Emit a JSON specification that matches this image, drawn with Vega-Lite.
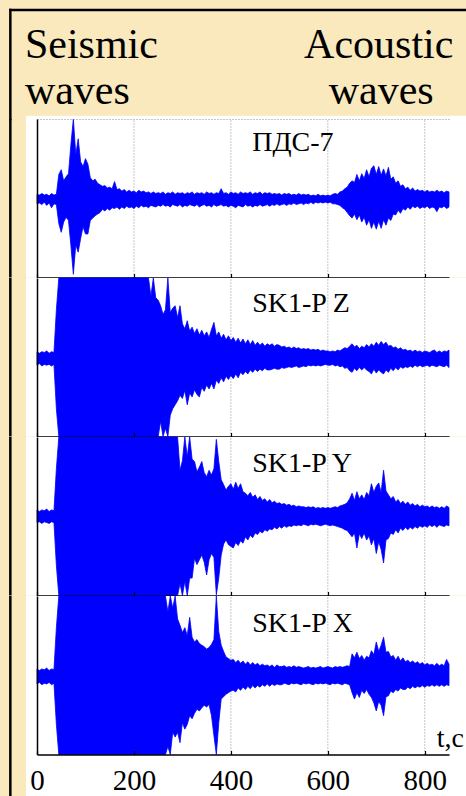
{
"$schema": "https://vega.github.io/schema/vega-lite/v6.json",
"background": "#F9E9BD",
"padding": {"left": 8, "top": 8, "right": 0, "bottom": 0},
"spacing": 0,
"bounds": "flush",
"config": {"view": {"stroke": null}, "font": "Liberation Serif"},
"resolve": {"scale": {"x": "independent", "y": "independent"}, "axis": {"x": "independent", "y": "independent"}},
"datasets": {
"gridlines": [{"t":200},{"t":400},{"t":600},{"t":800}],
"pds": [
{"t":0,"hi":0.05,"lo":-0.07},{"t":5,"hi":0.04,"lo":-0.06},{"t":10,"hi":0.06,"lo":-0.08},{"t":15,"hi":0.04,"lo":-0.05},{"t":20,"hi":0.05,"lo":-0.09},{"t":25,"hi":0.03,"lo":-0.06},{"t":30,"hi":0.06,"lo":-0.12},{"t":35,"hi":0.04,"lo":-0.07},{"t":40,"hi":0.05,"lo":-0.08},
{"t":45,"hi":0.30,"lo":-0.32},{"t":50,"hi":0.36,"lo":-0.43},{"t":55,"hi":0.22,"lo":-0.30},{"t":60,"hi":0.27,"lo":-0.24},{"t":65,"hi":0.31,"lo":-0.28},{"t":70,"hi":0.68,"lo":-0.60},{"t":75,"hi":1,"lo":-0.96},{"t":80,"hi":0.55,"lo":-0.59},{"t":85,"hi":0.75,"lo":-0.68},{"t":90,"hi":0.46,"lo":-0.51},{"t":95,"hi":0.40,"lo":-0.36},{"t":100,"hi":0.50,"lo":-0.45},{"t":105,"hi":0.43,"lo":-0.45},{"t":110,"hi":0.26,"lo":-0.28},{"t":115,"hi":0.22,"lo":-0.25},{"t":120,"hi":0.24,"lo":-0.22},{"t":125,"hi":0.19,"lo":-0.20},{"t":130,"hi":0.17,"lo":-0.18},{"t":135,"hi":0.15,"lo":-0.14},{"t":140,"hi":0.16,"lo":-0.16},{"t":145,"hi":0.13,"lo":-0.13},{"t":150,"hi":0.14,"lo":-0.15},{"t":155,"hi":0.12,"lo":-0.12},{"t":160,"hi":0.21,"lo":-0.13},{"t":165,"hi":0.11,"lo":-0.11},{"t":170,"hi":0.12,"lo":-0.14},{"t":175,"hi":0.09,"lo":-0.11},{"t":180,"hi":0.11,"lo":-0.13},{"t":185,"hi":0.08,"lo":-0.10},{"t":190,"hi":0.10,"lo":-0.12},{"t":195,"hi":0.08,"lo":-0.11},{"t":200,"hi":0.09,"lo":-0.13},
{"t":205,"hi":0.07,"lo":-0.10},{"t":210,"hi":0.10,"lo":-0.12},{"t":215,"hi":0.08,"lo":-0.09},{"t":220,"hi":0.09,"lo":-0.11},{"t":225,"hi":0.07,"lo":-0.10},{"t":230,"hi":0.08,"lo":-0.12},{"t":235,"hi":0.06,"lo":-0.09},{"t":240,"hi":0.08,"lo":-0.10},{"t":245,"hi":0.06,"lo":-0.11},{"t":250,"hi":0.07,"lo":-0.09},{"t":255,"hi":0.06,"lo":-0.10},{"t":260,"hi":0.08,"lo":-0.08},{"t":265,"hi":0.05,"lo":-0.10},{"t":270,"hi":0.07,"lo":-0.09},{"t":275,"hi":0.06,"lo":-0.11},{"t":280,"hi":0.08,"lo":-0.08},{"t":285,"hi":0.05,"lo":-0.09},{"t":290,"hi":0.07,"lo":-0.10},{"t":295,"hi":0.06,"lo":-0.08},{"t":300,"hi":0.07,"lo":-0.11},
{"t":305,"hi":0.05,"lo":-0.09},{"t":310,"hi":0.07,"lo":-0.10},{"t":315,"hi":0.06,"lo":-0.08},{"t":320,"hi":0.08,"lo":-0.09},{"t":325,"hi":0.05,"lo":-0.10},{"t":330,"hi":0.07,"lo":-0.08},{"t":335,"hi":0.06,"lo":-0.11},{"t":340,"hi":0.07,"lo":-0.09},{"t":345,"hi":0.05,"lo":-0.08},{"t":350,"hi":0.08,"lo":-0.10},{"t":355,"hi":0.06,"lo":-0.09},{"t":360,"hi":0.07,"lo":-0.11},{"t":365,"hi":0.05,"lo":-0.08},{"t":370,"hi":0.07,"lo":-0.10},{"t":375,"hi":0.06,"lo":-0.09},{"t":380,"hi":0.12,"lo":-0.08},{"t":385,"hi":0.06,"lo":-0.10},{"t":390,"hi":0.07,"lo":-0.09},{"t":395,"hi":0.05,"lo":-0.11},{"t":400,"hi":0.08,"lo":-0.09},
{"t":405,"hi":0.06,"lo":-0.10},{"t":410,"hi":0.07,"lo":-0.12},{"t":415,"hi":0.05,"lo":-0.09},{"t":420,"hi":0.08,"lo":-0.10},{"t":425,"hi":0.06,"lo":-0.11},{"t":430,"hi":0.07,"lo":-0.08},{"t":435,"hi":0.06,"lo":-0.10},{"t":440,"hi":0.08,"lo":-0.09},{"t":445,"hi":0.05,"lo":-0.11},{"t":450,"hi":0.07,"lo":-0.09},{"t":455,"hi":0.06,"lo":-0.10},{"t":460,"hi":0.08,"lo":-0.08},{"t":465,"hi":0.05,"lo":-0.10},{"t":470,"hi":0.07,"lo":-0.09},{"t":475,"hi":0.06,"lo":-0.08},{"t":480,"hi":0.07,"lo":-0.10},{"t":485,"hi":0.05,"lo":-0.08},{"t":490,"hi":0.06,"lo":-0.09},{"t":495,"hi":0.05,"lo":-0.07},{"t":500,"hi":0.06,"lo":-0.09},
{"t":505,"hi":0.04,"lo":-0.08},{"t":510,"hi":0.06,"lo":-0.07},{"t":515,"hi":0.05,"lo":-0.09},{"t":520,"hi":0.06,"lo":-0.07},{"t":525,"hi":0.04,"lo":-0.08},{"t":530,"hi":0.05,"lo":-0.06},{"t":535,"hi":0.04,"lo":-0.08},{"t":540,"hi":0.06,"lo":-0.07},{"t":545,"hi":0.04,"lo":-0.06},{"t":550,"hi":0.05,"lo":-0.08},{"t":555,"hi":0.04,"lo":-0.06},{"t":560,"hi":0.05,"lo":-0.07},{"t":565,"hi":0.03,"lo":-0.05},{"t":570,"hi":0.04,"lo":-0.07},{"t":575,"hi":0.03,"lo":-0.05},{"t":580,"hi":0.05,"lo":-0.06},{"t":585,"hi":0.03,"lo":-0.05},{"t":590,"hi":0.04,"lo":-0.06},{"t":595,"hi":0.03,"lo":-0.05},{"t":600,"hi":0.04,"lo":-0.06},
{"t":605,"hi":0.03,"lo":-0.05},{"t":610,"hi":0.05,"lo":-0.07},{"t":615,"hi":0.06,"lo":-0.07},{"t":620,"hi":0.05,"lo":-0.08},{"t":625,"hi":0.08,"lo":-0.09},{"t":630,"hi":0.09,"lo":-0.12},{"t":635,"hi":0.12,"lo":-0.14},{"t":640,"hi":0.14,"lo":-0.18},{"t":645,"hi":0.19,"lo":-0.22},{"t":650,"hi":0.22,"lo":-0.25},{"t":655,"hi":0.20,"lo":-0.20},{"t":660,"hi":0.30,"lo":-0.27},{"t":665,"hi":0.22,"lo":-0.21},{"t":670,"hi":0.31,"lo":-0.30},{"t":675,"hi":0.25,"lo":-0.24},{"t":680,"hi":0.36,"lo":-0.34},{"t":685,"hi":0.27,"lo":-0.27},{"t":690,"hi":0.38,"lo":-0.38},{"t":695,"hi":0.41,"lo":-0.30},{"t":700,"hi":0.30,"lo":-0.39},
{"t":705,"hi":0.40,"lo":-0.29},{"t":710,"hi":0.29,"lo":-0.38},{"t":715,"hi":0.37,"lo":-0.27},{"t":720,"hi":0.28,"lo":-0.34},{"t":725,"hi":0.39,"lo":-0.25},{"t":730,"hi":0.24,"lo":-0.28},{"t":735,"hi":0.27,"lo":-0.20},{"t":740,"hi":0.19,"lo":-0.21},{"t":745,"hi":0.22,"lo":-0.15},{"t":750,"hi":0.15,"lo":-0.19},{"t":755,"hi":0.17,"lo":-0.13},{"t":760,"hi":0.12,"lo":-0.15},{"t":765,"hi":0.14,"lo":-0.11},{"t":770,"hi":0.10,"lo":-0.14},{"t":775,"hi":0.13,"lo":-0.10},{"t":780,"hi":0.09,"lo":-0.12},{"t":785,"hi":0.11,"lo":-0.10},{"t":790,"hi":0.09,"lo":-0.13},{"t":795,"hi":0.10,"lo":-0.11},{"t":800,"hi":0.08,"lo":-0.12},
{"t":805,"hi":0.10,"lo":-0.10},{"t":810,"hi":0.08,"lo":-0.13},{"t":815,"hi":0.09,"lo":-0.11},{"t":820,"hi":0.08,"lo":-0.12},{"t":825,"hi":0.10,"lo":-0.17},{"t":830,"hi":0.08,"lo":-0.11},{"t":835,"hi":0.09,"lo":-0.12},{"t":840,"hi":0.07,"lo":-0.10},{"t":845,"hi":0.09,"lo":-0.13},{"t":850,"hi":0.08,"lo":-0.11}
],
"skz": [
{"t":0,"hi":0.07,"lo":-0.10},{"t":5,"hi":0.05,"lo":-0.08},{"t":10,"hi":0.07,"lo":-0.11},{"t":15,"hi":0.06,"lo":-0.09},{"t":20,"hi":0.08,"lo":-0.10},{"t":25,"hi":0.05,"lo":-0.09},{"t":30,"hi":0.07,"lo":-0.11},{"t":35,"hi":0.06,"lo":-0.09},{"t":40,"hi":0.60,"lo":-0.65},
{"t":45,"hi":1,"lo":-1},{"t":50,"hi":1,"lo":-1},{"t":55,"hi":1,"lo":-1},{"t":60,"hi":1,"lo":-1},{"t":65,"hi":1,"lo":-1},{"t":70,"hi":1,"lo":-1},{"t":75,"hi":1,"lo":-1},{"t":80,"hi":1,"lo":-1},{"t":85,"hi":1,"lo":-1},{"t":90,"hi":1,"lo":-1},{"t":95,"hi":1,"lo":-1},{"t":100,"hi":1,"lo":-1},{"t":105,"hi":1,"lo":-1},{"t":110,"hi":1,"lo":-1},{"t":115,"hi":1,"lo":-1},{"t":120,"hi":1,"lo":-1},{"t":125,"hi":1,"lo":-1},{"t":130,"hi":1,"lo":-1},{"t":135,"hi":1,"lo":-1},{"t":140,"hi":1,"lo":-1},{"t":145,"hi":1,"lo":-1},{"t":150,"hi":1,"lo":-1},{"t":155,"hi":1,"lo":-1},{"t":160,"hi":1,"lo":-1},{"t":165,"hi":1,"lo":-1},{"t":170,"hi":1,"lo":-1},{"t":175,"hi":1,"lo":-1},{"t":180,"hi":1,"lo":-1},{"t":185,"hi":1,"lo":-1},{"t":190,"hi":1,"lo":-1},{"t":195,"hi":1,"lo":-1},{"t":200,"hi":1,"lo":-1},{"t":205,"hi":1,"lo":-1},{"t":210,"hi":1,"lo":-1},{"t":215,"hi":1,"lo":-1},{"t":220,"hi":1,"lo":-1},{"t":225,"hi":1,"lo":-1},{"t":230,"hi":1,"lo":-1},
{"t":235,"hi":0.77,"lo":-1},{"t":240,"hi":1,"lo":-1},{"t":245,"hi":0.75,"lo":-1},{"t":250,"hi":0.72,"lo":-1},{"t":255,"hi":0.65,"lo":-0.81},{"t":260,"hi":0.54,"lo":-1},{"t":265,"hi":0.60,"lo":-0.90},{"t":270,"hi":1,"lo":-1},{"t":275,"hi":0.56,"lo":-0.73},{"t":280,"hi":0.62,"lo":-0.65},{"t":285,"hi":0.65,"lo":-0.60},{"t":290,"hi":0.50,"lo":-0.55},{"t":295,"hi":0.65,"lo":-0.48},{"t":300,"hi":0.42,"lo":-0.52},
{"t":305,"hi":0.36,"lo":-0.42},{"t":310,"hi":0.46,"lo":-0.60},{"t":315,"hi":0.33,"lo":-0.45},{"t":320,"hi":0.38,"lo":-0.50},{"t":325,"hi":0.30,"lo":-0.41},{"t":330,"hi":0.36,"lo":-0.47},{"t":335,"hi":0.28,"lo":-0.50},{"t":340,"hi":0.34,"lo":-0.38},{"t":345,"hi":0.27,"lo":-0.43},{"t":350,"hi":0.32,"lo":-0.35},{"t":355,"hi":0.25,"lo":-0.40},{"t":360,"hi":0.35,"lo":-0.33},{"t":365,"hi":0.44,"lo":-0.40},{"t":370,"hi":0.27,"lo":-0.29},{"t":375,"hi":0.32,"lo":-0.33},{"t":380,"hi":0.24,"lo":-0.26},{"t":385,"hi":0.29,"lo":-0.31},{"t":390,"hi":0.22,"lo":-0.24},{"t":395,"hi":0.27,"lo":-0.28},{"t":400,"hi":0.21,"lo":-0.23},
{"t":405,"hi":0.25,"lo":-0.27},{"t":410,"hi":0.19,"lo":-0.21},{"t":415,"hi":0.24,"lo":-0.26},{"t":420,"hi":0.18,"lo":-0.19},{"t":425,"hi":0.23,"lo":-0.22},{"t":430,"hi":0.17,"lo":-0.18},{"t":435,"hi":0.22,"lo":-0.21},{"t":440,"hi":0.16,"lo":-0.16},{"t":445,"hi":0.21,"lo":-0.19},{"t":450,"hi":0.15,"lo":-0.15},{"t":455,"hi":0.19,"lo":-0.18},{"t":460,"hi":0.15,"lo":-0.15},{"t":465,"hi":0.18,"lo":-0.17},{"t":470,"hi":0.14,"lo":-0.14},{"t":475,"hi":0.17,"lo":-0.16},{"t":480,"hi":0.15,"lo":-0.16},{"t":485,"hi":0.17,"lo":-0.15},{"t":490,"hi":0.14,"lo":-0.14},{"t":495,"hi":0.16,"lo":-0.15},{"t":500,"hi":0.15,"lo":-0.15},
{"t":505,"hi":0.13,"lo":-0.13},{"t":510,"hi":0.14,"lo":-0.14},{"t":515,"hi":0.12,"lo":-0.13},{"t":520,"hi":0.13,"lo":-0.12},{"t":525,"hi":0.11,"lo":-0.13},{"t":530,"hi":0.13,"lo":-0.12},{"t":535,"hi":0.11,"lo":-0.11},{"t":540,"hi":0.12,"lo":-0.13},{"t":545,"hi":0.10,"lo":-0.12},{"t":550,"hi":0.11,"lo":-0.11},{"t":555,"hi":0.10,"lo":-0.12},{"t":560,"hi":0.11,"lo":-0.10},{"t":565,"hi":0.09,"lo":-0.11},{"t":570,"hi":0.10,"lo":-0.10},{"t":575,"hi":0.09,"lo":-0.11},{"t":580,"hi":0.10,"lo":-0.10},{"t":585,"hi":0.08,"lo":-0.11},{"t":590,"hi":0.09,"lo":-0.10},{"t":595,"hi":0.08,"lo":-0.09},{"t":600,"hi":0.08,"lo":-0.10},
{"t":605,"hi":0.07,"lo":-0.10},{"t":610,"hi":0.08,"lo":-0.09},{"t":615,"hi":0.07,"lo":-0.11},{"t":620,"hi":0.09,"lo":-0.10},{"t":625,"hi":0.08,"lo":-0.12},{"t":630,"hi":0.10,"lo":-0.11},{"t":635,"hi":0.12,"lo":-0.14},{"t":640,"hi":0.11,"lo":-0.13},{"t":645,"hi":0.14,"lo":-0.17},{"t":650,"hi":0.17,"lo":-0.19},{"t":655,"hi":0.13,"lo":-0.14},{"t":660,"hi":0.15,"lo":-0.17},{"t":665,"hi":0.11,"lo":-0.13},{"t":670,"hi":0.14,"lo":-0.16},{"t":675,"hi":0.12,"lo":-0.13},{"t":680,"hi":0.16,"lo":-0.16},{"t":685,"hi":0.13,"lo":-0.18},{"t":690,"hi":0.17,"lo":-0.21},{"t":695,"hi":0.14,"lo":-0.15},{"t":700,"hi":0.19,"lo":-0.20},
{"t":705,"hi":0.15,"lo":-0.16},{"t":710,"hi":0.20,"lo":-0.19},{"t":715,"hi":0.16,"lo":-0.21},{"t":720,"hi":0.19,"lo":-0.16},{"t":725,"hi":0.14,"lo":-0.19},{"t":730,"hi":0.15,"lo":-0.14},{"t":735,"hi":0.12,"lo":-0.17},{"t":740,"hi":0.13,"lo":-0.13},{"t":745,"hi":0.10,"lo":-0.16},{"t":750,"hi":0.12,"lo":-0.12},{"t":755,"hi":0.09,"lo":-0.14},{"t":760,"hi":0.10,"lo":-0.12},{"t":765,"hi":0.08,"lo":-0.13},{"t":770,"hi":0.09,"lo":-0.11},{"t":775,"hi":0.07,"lo":-0.13},{"t":780,"hi":0.09,"lo":-0.10},{"t":785,"hi":0.07,"lo":-0.12},{"t":790,"hi":0.08,"lo":-0.10},{"t":795,"hi":0.06,"lo":-0.12},{"t":800,"hi":0.08,"lo":-0.11},
{"t":805,"hi":0.07,"lo":-0.10},{"t":810,"hi":0.06,"lo":-0.12},{"t":815,"hi":0.08,"lo":-0.10},{"t":820,"hi":0.09,"lo":-0.11},{"t":825,"hi":0.06,"lo":-0.12},{"t":830,"hi":0.08,"lo":-0.10},{"t":835,"hi":0.06,"lo":-0.11},{"t":840,"hi":0.08,"lo":-0.12},{"t":845,"hi":0.07,"lo":-0.10},{"t":850,"hi":0.09,"lo":-0.13}
],
"sky": [
{"t":0,"hi":0.08,"lo":-0.08},{"t":5,"hi":0.06,"lo":-0.07},{"t":10,"hi":0.08,"lo":-0.09},{"t":15,"hi":0.07,"lo":-0.07},{"t":20,"hi":0.09,"lo":-0.08},{"t":25,"hi":0.06,"lo":-0.09},{"t":30,"hi":0.08,"lo":-0.07},{"t":35,"hi":0.07,"lo":-0.08},{"t":40,"hi":0.60,"lo":-0.62},
{"t":45,"hi":1,"lo":-1},{"t":50,"hi":1,"lo":-1},{"t":55,"hi":1,"lo":-1},{"t":60,"hi":1,"lo":-1},{"t":65,"hi":1,"lo":-1},{"t":70,"hi":1,"lo":-1},{"t":75,"hi":1,"lo":-1},{"t":80,"hi":1,"lo":-1},{"t":85,"hi":1,"lo":-1},{"t":90,"hi":1,"lo":-1},{"t":95,"hi":1,"lo":-1},{"t":100,"hi":1,"lo":-1},{"t":105,"hi":1,"lo":-1},{"t":110,"hi":1,"lo":-1},{"t":115,"hi":1,"lo":-1},{"t":120,"hi":1,"lo":-1},{"t":125,"hi":1,"lo":-1},{"t":130,"hi":1,"lo":-1},{"t":135,"hi":1,"lo":-1},{"t":140,"hi":1,"lo":-1},{"t":145,"hi":1,"lo":-1},{"t":150,"hi":1,"lo":-1},{"t":155,"hi":1,"lo":-1},{"t":160,"hi":1,"lo":-1},{"t":165,"hi":1,"lo":-1},{"t":170,"hi":1,"lo":-1},{"t":175,"hi":1,"lo":-1},{"t":180,"hi":1,"lo":-1},{"t":185,"hi":1,"lo":-1},{"t":190,"hi":1,"lo":-1},{"t":195,"hi":1,"lo":-1},{"t":200,"hi":1,"lo":-1},{"t":205,"hi":1,"lo":-1},{"t":210,"hi":1,"lo":-1},{"t":215,"hi":1,"lo":-1},{"t":220,"hi":1,"lo":-1},{"t":225,"hi":1,"lo":-1},{"t":230,"hi":1,"lo":-1},{"t":235,"hi":1,"lo":-1},{"t":240,"hi":1,"lo":-1},{"t":245,"hi":1,"lo":-1},{"t":250,"hi":1,"lo":-1},{"t":255,"hi":1,"lo":-1},{"t":260,"hi":1,"lo":-1},{"t":265,"hi":1,"lo":-1},{"t":270,"hi":1,"lo":-1},{"t":275,"hi":1,"lo":-1},{"t":280,"hi":1,"lo":-1},{"t":285,"hi":1,"lo":-1},{"t":290,"hi":1,"lo":-1},
{"t":295,"hi":0.58,"lo":-0.85},{"t":300,"hi":0.70,"lo":-1},{"t":305,"hi":1,"lo":-0.82},{"t":310,"hi":0.75,"lo":-1},{"t":315,"hi":1,"lo":-0.78},{"t":320,"hi":0.72,"lo":-0.78},{"t":325,"hi":0.69,"lo":-0.53},{"t":330,"hi":0.56,"lo":-0.61},{"t":335,"hi":0.62,"lo":-0.55},{"t":340,"hi":0.69,"lo":-0.49},{"t":345,"hi":0.55,"lo":-0.58},{"t":350,"hi":0.50,"lo":-0.74},{"t":355,"hi":0.58,"lo":-0.55},{"t":360,"hi":0.52,"lo":-0.47},{"t":365,"hi":0.60,"lo":-0.52},{"t":370,"hi":0.97,"lo":-0.99},{"t":375,"hi":0.69,"lo":-0.78},{"t":380,"hi":0.46,"lo":-0.49},{"t":385,"hi":0.40,"lo":-0.35},{"t":390,"hi":0.33,"lo":-0.30},{"t":395,"hi":0.38,"lo":-0.36},{"t":400,"hi":0.41,"lo":-0.38},
{"t":405,"hi":0.34,"lo":-0.40},{"t":410,"hi":0.43,"lo":-0.33},{"t":415,"hi":0.35,"lo":-0.37},{"t":420,"hi":0.41,"lo":-0.31},{"t":425,"hi":0.31,"lo":-0.34},{"t":430,"hi":0.29,"lo":-0.26},{"t":435,"hi":0.26,"lo":-0.30},{"t":440,"hi":0.30,"lo":-0.24},{"t":445,"hi":0.24,"lo":-0.27},{"t":450,"hi":0.27,"lo":-0.21},{"t":455,"hi":0.21,"lo":-0.23},{"t":460,"hi":0.25,"lo":-0.19},{"t":465,"hi":0.20,"lo":-0.21},{"t":470,"hi":0.22,"lo":-0.17},{"t":475,"hi":0.18,"lo":-0.19},{"t":480,"hi":0.21,"lo":-0.16},{"t":485,"hi":0.17,"lo":-0.17},{"t":490,"hi":0.19,"lo":-0.14},{"t":495,"hi":0.16,"lo":-0.16},{"t":500,"hi":0.17,"lo":-0.13},
{"t":505,"hi":0.15,"lo":-0.15},{"t":510,"hi":0.16,"lo":-0.12},{"t":515,"hi":0.14,"lo":-0.14},{"t":520,"hi":0.15,"lo":-0.12},{"t":525,"hi":0.13,"lo":-0.13},{"t":530,"hi":0.14,"lo":-0.11},{"t":535,"hi":0.12,"lo":-0.12},{"t":540,"hi":0.13,"lo":-0.11},{"t":545,"hi":0.12,"lo":-0.12},{"t":550,"hi":0.12,"lo":-0.10},{"t":555,"hi":0.11,"lo":-0.11},{"t":560,"hi":0.12,"lo":-0.12},{"t":565,"hi":0.11,"lo":-0.10},{"t":570,"hi":0.12,"lo":-0.11},{"t":575,"hi":0.10,"lo":-0.10},{"t":580,"hi":0.11,"lo":-0.11},{"t":585,"hi":0.10,"lo":-0.12},{"t":590,"hi":0.11,"lo":-0.11},{"t":595,"hi":0.10,"lo":-0.10},{"t":600,"hi":0.11,"lo":-0.11},
{"t":605,"hi":0.10,"lo":-0.12},{"t":610,"hi":0.11,"lo":-0.11},{"t":615,"hi":0.12,"lo":-0.12},{"t":620,"hi":0.11,"lo":-0.13},{"t":625,"hi":0.13,"lo":-0.14},{"t":630,"hi":0.14,"lo":-0.15},{"t":635,"hi":0.15,"lo":-0.17},{"t":640,"hi":0.17,"lo":-0.18},{"t":645,"hi":0.22,"lo":-0.22},{"t":650,"hi":0.29,"lo":-0.26},{"t":655,"hi":0.20,"lo":-0.21},{"t":660,"hi":0.31,"lo":-0.40},{"t":665,"hi":0.22,"lo":-0.22},{"t":670,"hi":0.27,"lo":-0.28},{"t":675,"hi":0.21,"lo":-0.21},{"t":680,"hi":0.30,"lo":-0.30},{"t":685,"hi":0.26,"lo":-0.25},{"t":690,"hi":0.41,"lo":-0.36},{"t":695,"hi":0.30,"lo":-0.28},{"t":700,"hi":0.38,"lo":-0.47},
{"t":705,"hi":0.42,"lo":-0.32},{"t":710,"hi":0.30,"lo":-0.42},{"t":715,"hi":0.58,"lo":-0.59},{"t":720,"hi":0.32,"lo":-0.30},{"t":725,"hi":0.27,"lo":-0.28},{"t":730,"hi":0.22,"lo":-0.21},{"t":735,"hi":0.25,"lo":-0.23},{"t":740,"hi":0.18,"lo":-0.17},{"t":745,"hi":0.21,"lo":-0.21},{"t":750,"hi":0.16,"lo":-0.15},{"t":755,"hi":0.19,"lo":-0.18},{"t":760,"hi":0.15,"lo":-0.14},{"t":765,"hi":0.18,"lo":-0.17},{"t":770,"hi":0.14,"lo":-0.14},{"t":775,"hi":0.16,"lo":-0.16},{"t":780,"hi":0.13,"lo":-0.13},{"t":785,"hi":0.15,"lo":-0.15},{"t":790,"hi":0.12,"lo":-0.12},{"t":795,"hi":0.14,"lo":-0.14},{"t":800,"hi":0.12,"lo":-0.12},
{"t":805,"hi":0.13,"lo":-0.14},{"t":810,"hi":0.11,"lo":-0.11},{"t":815,"hi":0.13,"lo":-0.13},{"t":820,"hi":0.11,"lo":-0.11},{"t":825,"hi":0.12,"lo":-0.14},{"t":830,"hi":0.10,"lo":-0.11},{"t":835,"hi":0.12,"lo":-0.12},{"t":840,"hi":0.10,"lo":-0.13},{"t":845,"hi":0.13,"lo":-0.11},{"t":850,"hi":0.11,"lo":-0.12}
],
"skx": [
{"t":0,"hi":0.08,"lo":-0.11},{"t":5,"hi":0.06,"lo":-0.09},{"t":10,"hi":0.08,"lo":-0.12},{"t":15,"hi":0.07,"lo":-0.10},{"t":20,"hi":0.09,"lo":-0.11},{"t":25,"hi":0.06,"lo":-0.09},{"t":30,"hi":0.08,"lo":-0.12},{"t":35,"hi":0.07,"lo":-0.10},{"t":40,"hi":0.60,"lo":-0.62},
{"t":45,"hi":1,"lo":-1},{"t":50,"hi":1,"lo":-1},{"t":55,"hi":1,"lo":-1},{"t":60,"hi":1,"lo":-1},{"t":65,"hi":1,"lo":-1},{"t":70,"hi":1,"lo":-1},{"t":75,"hi":1,"lo":-1},{"t":80,"hi":1,"lo":-1},{"t":85,"hi":1,"lo":-1},{"t":90,"hi":1,"lo":-1},{"t":95,"hi":1,"lo":-1},{"t":100,"hi":1,"lo":-1},{"t":105,"hi":1,"lo":-1},{"t":110,"hi":1,"lo":-1},{"t":115,"hi":1,"lo":-1},{"t":120,"hi":1,"lo":-1},{"t":125,"hi":1,"lo":-1},{"t":130,"hi":1,"lo":-1},{"t":135,"hi":1,"lo":-1},{"t":140,"hi":1,"lo":-1},{"t":145,"hi":1,"lo":-1},{"t":150,"hi":1,"lo":-1},{"t":155,"hi":1,"lo":-1},{"t":160,"hi":1,"lo":-1},{"t":165,"hi":1,"lo":-1},{"t":170,"hi":1,"lo":-1},{"t":175,"hi":1,"lo":-1},{"t":180,"hi":1,"lo":-1},{"t":185,"hi":1,"lo":-1},{"t":190,"hi":1,"lo":-1},{"t":195,"hi":1,"lo":-1},{"t":200,"hi":1,"lo":-1},{"t":205,"hi":1,"lo":-1},{"t":210,"hi":1,"lo":-1},{"t":215,"hi":1,"lo":-1},{"t":220,"hi":1,"lo":-1},{"t":225,"hi":1,"lo":-1},{"t":230,"hi":1,"lo":-1},{"t":235,"hi":1,"lo":-1},{"t":240,"hi":1,"lo":-1},{"t":245,"hi":1,"lo":-1},{"t":250,"hi":1,"lo":-1},{"t":255,"hi":1,"lo":-1},{"t":260,"hi":1,"lo":-1},{"t":265,"hi":1,"lo":-1},
{"t":270,"hi":0.80,"lo":-0.90},{"t":275,"hi":1,"lo":-1},{"t":280,"hi":0.85,"lo":-0.72},{"t":285,"hi":1,"lo":-0.78},{"t":290,"hi":0.71,"lo":-0.72},{"t":295,"hi":0.63,"lo":-0.85},{"t":300,"hi":0.54,"lo":-0.60},
{"t":305,"hi":0.60,"lo":-0.68},{"t":310,"hi":0.50,"lo":-0.62},{"t":315,"hi":0.73,"lo":-0.51},{"t":320,"hi":0.48,"lo":-0.55},{"t":325,"hi":0.42,"lo":-0.48},{"t":330,"hi":0.45,"lo":-0.43},{"t":335,"hi":0.40,"lo":-0.45},{"t":340,"hi":0.38,"lo":-0.41},{"t":345,"hi":0.36,"lo":-0.38},{"t":350,"hi":0.33,"lo":-0.40},{"t":355,"hi":0.35,"lo":-0.37},{"t":360,"hi":0.39,"lo":-0.51},{"t":365,"hi":0.45,"lo":-0.76},{"t":370,"hi":1,"lo":-1},{"t":375,"hi":0.55,"lo":-0.60},{"t":380,"hi":0.38,"lo":-0.30},{"t":385,"hi":0.30,"lo":-0.27},{"t":390,"hi":0.23,"lo":-0.24},{"t":395,"hi":0.21,"lo":-0.22},{"t":400,"hi":0.19,"lo":-0.20},
{"t":405,"hi":0.20,"lo":-0.19},{"t":410,"hi":0.16,"lo":-0.21},{"t":415,"hi":0.19,"lo":-0.16},{"t":420,"hi":0.15,"lo":-0.19},{"t":425,"hi":0.18,"lo":-0.15},{"t":430,"hi":0.14,"lo":-0.18},{"t":435,"hi":0.17,"lo":-0.14},{"t":440,"hi":0.13,"lo":-0.17},{"t":445,"hi":0.16,"lo":-0.13},{"t":450,"hi":0.13,"lo":-0.16},{"t":455,"hi":0.15,"lo":-0.13},{"t":460,"hi":0.12,"lo":-0.15},{"t":465,"hi":0.14,"lo":-0.12},{"t":470,"hi":0.12,"lo":-0.14},{"t":475,"hi":0.13,"lo":-0.11},{"t":480,"hi":0.11,"lo":-0.14},{"t":485,"hi":0.13,"lo":-0.11},{"t":490,"hi":0.10,"lo":-0.13},{"t":495,"hi":0.13,"lo":-0.11},{"t":500,"hi":0.11,"lo":-0.12},
{"t":505,"hi":0.11,"lo":-0.12},{"t":510,"hi":0.12,"lo":-0.10},{"t":515,"hi":0.10,"lo":-0.11},{"t":520,"hi":0.11,"lo":-0.12},{"t":525,"hi":0.10,"lo":-0.10},{"t":530,"hi":0.12,"lo":-0.11},{"t":535,"hi":0.10,"lo":-0.10},{"t":540,"hi":0.11,"lo":-0.11},{"t":545,"hi":0.10,"lo":-0.12},{"t":550,"hi":0.09,"lo":-0.10},{"t":555,"hi":0.10,"lo":-0.11},{"t":560,"hi":0.11,"lo":-0.10},{"t":565,"hi":0.09,"lo":-0.11},{"t":570,"hi":0.10,"lo":-0.12},{"t":575,"hi":0.09,"lo":-0.10},{"t":580,"hi":0.10,"lo":-0.11},{"t":585,"hi":0.11,"lo":-0.10},{"t":590,"hi":0.09,"lo":-0.11},{"t":595,"hi":0.10,"lo":-0.10},{"t":600,"hi":0.11,"lo":-0.11},
{"t":605,"hi":0.10,"lo":-0.12},{"t":610,"hi":0.09,"lo":-0.10},{"t":615,"hi":0.11,"lo":-0.11},{"t":620,"hi":0.10,"lo":-0.10},{"t":625,"hi":0.11,"lo":-0.11},{"t":630,"hi":0.10,"lo":-0.12},{"t":635,"hi":0.11,"lo":-0.10},{"t":640,"hi":0.12,"lo":-0.11},{"t":645,"hi":0.11,"lo":-0.12},{"t":650,"hi":0.27,"lo":-0.22},{"t":655,"hi":0.22,"lo":-0.30},{"t":660,"hi":0.29,"lo":-0.22},{"t":665,"hi":0.21,"lo":-0.28},{"t":670,"hi":0.25,"lo":-0.19},{"t":675,"hi":0.19,"lo":-0.23},{"t":680,"hi":0.24,"lo":-0.18},{"t":685,"hi":0.22,"lo":-0.24},{"t":690,"hi":0.31,"lo":-0.28},{"t":695,"hi":0.26,"lo":-0.35},{"t":700,"hi":0.42,"lo":-0.45},
{"t":705,"hi":0.30,"lo":-0.33},{"t":710,"hi":0.38,"lo":-0.38},{"t":715,"hi":0.48,"lo":-0.51},{"t":720,"hi":0.29,"lo":-0.27},{"t":725,"hi":0.30,"lo":-0.26},{"t":730,"hi":0.23,"lo":-0.20},{"t":735,"hi":0.25,"lo":-0.22},{"t":740,"hi":0.19,"lo":-0.18},{"t":745,"hi":0.24,"lo":-0.20},{"t":750,"hi":0.18,"lo":-0.16},{"t":755,"hi":0.22,"lo":-0.18},{"t":760,"hi":0.17,"lo":-0.18},{"t":765,"hi":0.19,"lo":-0.15},{"t":770,"hi":0.16,"lo":-0.17},{"t":775,"hi":0.18,"lo":-0.14},{"t":780,"hi":0.15,"lo":-0.16},{"t":785,"hi":0.17,"lo":-0.14},{"t":790,"hi":0.14,"lo":-0.15},{"t":795,"hi":0.16,"lo":-0.13},{"t":800,"hi":0.13,"lo":-0.15},
{"t":805,"hi":0.15,"lo":-0.13},{"t":810,"hi":0.13,"lo":-0.14},{"t":815,"hi":0.14,"lo":-0.12},{"t":820,"hi":0.12,"lo":-0.14},{"t":825,"hi":0.15,"lo":-0.12},{"t":830,"hi":0.12,"lo":-0.14},{"t":835,"hi":0.14,"lo":-0.12},{"t":840,"hi":0.12,"lo":-0.14},{"t":845,"hi":0.20,"lo":-0.12},{"t":850,"hi":0.14,"lo":-0.13}
]
},
"vconcat": [
{
"width": 412, "height": 109,
"layer": [
{"data": {"values": [{}]}, "mark": {"type": "rule", "color": "#000000", "strokeWidth": 2.5, "strokeCap": "square"},
 "encoding": {"x": {"datum": -55, "type": "quantitative", "scale": {"domain": [0, 850], "nice": false, "zero": false}, "axis": null}, "x2": {"datum": 883},
  "y": {"datum": 1, "type": "quantitative", "scale": {"domain": [0, 1], "nice": false, "zero": false}, "axis": null}}},
{"data": {"values": [{}]}, "mark": {"type": "rule", "color": "#000000", "strokeWidth": 2.5, "strokeCap": "square"},
 "encoding": {"x": {"datum": -55, "type": "quantitative", "scale": {"domain": [0, 850], "nice": false, "zero": false}, "axis": null},
  "y": {"datum": 0, "type": "quantitative", "scale": {"domain": [0, 1], "nice": false, "zero": false}, "axis": null}, "y2": {"datum": 1}}},
{"data": {"values": [{"label": "Seismic"}]}, "mark": {"type": "text", "font": "Liberation Serif", "fontSize": 42, "align": "left", "baseline": "alphabetic", "color": "#000000"},
 "encoding": {"x": {"datum": -25, "type": "quantitative", "scale": {"domain": [0, 850], "nice": false, "zero": false}, "axis": null},
  "y": {"datum": 0.562, "type": "quantitative", "scale": {"domain": [0, 1], "nice": false, "zero": false}, "axis": null}, "text": {"field": "label"}}},
{"data": {"values": [{"label": "waves"}]}, "mark": {"type": "text", "font": "Liberation Serif", "fontSize": 42, "align": "left", "baseline": "alphabetic", "color": "#000000"},
 "encoding": {"x": {"datum": -25, "type": "quantitative", "scale": {"domain": [0, 850], "nice": false, "zero": false}, "axis": null},
  "y": {"datum": 0.137, "type": "quantitative", "scale": {"domain": [0, 1], "nice": false, "zero": false}, "axis": null}, "text": {"field": "label"}}},
{"data": {"values": [{"label": "Acoustic"}]}, "mark": {"type": "text", "font": "Liberation Serif", "fontSize": 42, "align": "center", "baseline": "alphabetic", "color": "#000000"},
 "encoding": {"x": {"datum": 705, "type": "quantitative", "scale": {"domain": [0, 850], "nice": false, "zero": false}, "axis": null},
  "y": {"datum": 0.562, "type": "quantitative", "scale": {"domain": [0, 1], "nice": false, "zero": false}, "axis": null}, "text": {"field": "label"}}},
{"data": {"values": [{"label": "waves"}]}, "mark": {"type": "text", "font": "Liberation Serif", "fontSize": 42, "align": "center", "baseline": "alphabetic", "color": "#000000"},
 "encoding": {"x": {"datum": 710, "type": "quantitative", "scale": {"domain": [0, 850], "nice": false, "zero": false}, "axis": null},
  "y": {"datum": 0.137, "type": "quantitative", "scale": {"domain": [0, 1], "nice": false, "zero": false}, "axis": null}, "text": {"field": "label"}}}
]
},
{
"width": 412, "height": 158.5,
"resolve": {"axis": {"x": "independent", "y": "independent"}},
"layer": [
{"data": {"values": [{}]}, "mark": {"type": "rect", "color": "#ffffff"},
 "encoding": {"x": {"datum": -22.7, "type": "quantitative", "scale": {"domain": [0, 850], "nice": false, "zero": false}, "axis": null}, "x2": {"datum": 886},
  "y": {"datum": -1, "type": "quantitative", "scale": {"domain": [-1, 1], "nice": false, "zero": false}, "axis": null}, "y2": {"datum": 1.04}}},
{"data": {"name": "gridlines"}, "mark": {"type": "rule", "color": "#8c8c8c", "strokeDash": [1, 2], "strokeWidth": 1},
 "encoding": {"x": {"field": "t", "type": "quantitative", "scale": {"domain": [0, 850], "nice": false, "zero": false}, "axis": null},
  "y": {"datum": -1, "type": "quantitative", "scale": {"domain": [-1, 1], "nice": false, "zero": false}, "axis": null}, "y2": {"datum": 1}}},
{"data": {"name": "pds"}, "mark": {"type": "area", "color": "#0000ff", "stroke": "#0000ff", "strokeWidth": 0.8, "interpolate": "linear"},
 "encoding": {"x": {"field": "t", "type": "quantitative", "scale": {"domain": [0, 850], "nice": false, "zero": false},
   "axis": {"orient": "bottom", "values": [0, 200, 400, 600, 800], "title": null, "grid": false, "domainColor": "#000000", "domainWidth": 1.5, "tickSize": -4, "tickColor": "#000000", "tickWidth": 1.2, "labels": false, "zindex": 1}},
  "y": {"field": "hi", "type": "quantitative", "scale": {"domain": [-1, 1], "nice": false, "zero": false},
   "axis": {"orient": "left", "values": [1], "title": null, "grid": true, "gridColor": "#8c8c8c", "gridDash": [1, 2], "domainColor": "#000000", "domainWidth": 1.5, "ticks": false, "labels": false, "zindex": 1}},
  "y2": {"field": "lo"}}},
{"data": {"values": [{}]}, "mark": {"type": "rule", "color": "#000000", "strokeWidth": 2.5},
 "encoding": {"x": {"datum": -55, "type": "quantitative", "scale": {"domain": [0, 850], "nice": false, "zero": false}, "axis": null},
  "y": {"datum": -1, "type": "quantitative", "scale": {"domain": [-1, 1], "nice": false, "zero": false}, "axis": null}, "y2": {"datum": 1}}},
{"data": {"values": [{"label": "ПДС-7"}]}, "mark": {"type": "text", "font": "Liberation Serif", "fontSize": 28, "align": "left", "baseline": "alphabetic", "color": "#000000"},
 "encoding": {"x": {"datum": 444, "type": "quantitative", "scale": {"domain": [0, 850], "nice": false, "zero": false}, "axis": null},
  "y": {"datum": 0.6, "type": "quantitative", "scale": {"domain": [-1, 1], "nice": false, "zero": false}, "axis": null}, "text": {"field": "label"}}}
]
},
{
"width": 412, "height": 158.5,
"resolve": {"axis": {"x": "independent", "y": "independent"}},
"layer": [
{"data": {"values": [{}]}, "mark": {"type": "rect", "color": "#ffffff"},
 "encoding": {"x": {"datum": -22.7, "type": "quantitative", "scale": {"domain": [0, 850], "nice": false, "zero": false}, "axis": null}, "x2": {"datum": 886},
  "y": {"datum": -1, "type": "quantitative", "scale": {"domain": [-1, 1], "nice": false, "zero": false}, "axis": null}, "y2": {"datum": 1}}},
{"data": {"name": "gridlines"}, "mark": {"type": "rule", "color": "#8c8c8c", "strokeDash": [1, 2], "strokeWidth": 1},
 "encoding": {"x": {"field": "t", "type": "quantitative", "scale": {"domain": [0, 850], "nice": false, "zero": false}, "axis": null},
  "y": {"datum": -1, "type": "quantitative", "scale": {"domain": [-1, 1], "nice": false, "zero": false}, "axis": null}, "y2": {"datum": 1}}},
{"data": {"name": "skz"}, "mark": {"type": "area", "color": "#0000ff", "stroke": "#0000ff", "strokeWidth": 0.8, "interpolate": "linear"},
 "encoding": {"x": {"field": "t", "type": "quantitative", "scale": {"domain": [0, 850], "nice": false, "zero": false},
   "axis": {"orient": "bottom", "values": [0, 200, 400, 600, 800], "title": null, "grid": false, "domainColor": "#000000", "domainWidth": 1.5, "tickSize": -4, "tickColor": "#000000", "tickWidth": 1.2, "labels": false, "zindex": 1}},
  "y": {"field": "hi", "type": "quantitative", "scale": {"domain": [-1, 1], "nice": false, "zero": false},
   "axis": {"orient": "left", "title": null, "grid": false, "domainColor": "#000000", "domainWidth": 1.5, "ticks": false, "labels": false, "zindex": 1}},
  "y2": {"field": "lo"}}},
{"data": {"values": [{}]}, "mark": {"type": "rule", "color": "#000000", "strokeWidth": 2.5},
 "encoding": {"x": {"datum": -55, "type": "quantitative", "scale": {"domain": [0, 850], "nice": false, "zero": false}, "axis": null},
  "y": {"datum": -1, "type": "quantitative", "scale": {"domain": [-1, 1], "nice": false, "zero": false}, "axis": null}, "y2": {"datum": 1}}},
{"data": {"values": [{"label": "SK1-P Z"}]}, "mark": {"type": "text", "font": "Liberation Serif", "fontSize": 28, "align": "left", "baseline": "alphabetic", "color": "#000000"},
 "encoding": {"x": {"datum": 444, "type": "quantitative", "scale": {"domain": [0, 850], "nice": false, "zero": false}, "axis": null},
  "y": {"datum": 0.57, "type": "quantitative", "scale": {"domain": [-1, 1], "nice": false, "zero": false}, "axis": null}, "text": {"field": "label"}}}
]
},
{
"width": 412, "height": 158.5,
"resolve": {"axis": {"x": "independent", "y": "independent"}},
"layer": [
{"data": {"values": [{}]}, "mark": {"type": "rect", "color": "#ffffff"},
 "encoding": {"x": {"datum": -22.7, "type": "quantitative", "scale": {"domain": [0, 850], "nice": false, "zero": false}, "axis": null}, "x2": {"datum": 886},
  "y": {"datum": -1, "type": "quantitative", "scale": {"domain": [-1, 1], "nice": false, "zero": false}, "axis": null}, "y2": {"datum": 1}}},
{"data": {"name": "gridlines"}, "mark": {"type": "rule", "color": "#8c8c8c", "strokeDash": [1, 2], "strokeWidth": 1},
 "encoding": {"x": {"field": "t", "type": "quantitative", "scale": {"domain": [0, 850], "nice": false, "zero": false}, "axis": null},
  "y": {"datum": -1, "type": "quantitative", "scale": {"domain": [-1, 1], "nice": false, "zero": false}, "axis": null}, "y2": {"datum": 1}}},
{"data": {"name": "sky"}, "mark": {"type": "area", "color": "#0000ff", "stroke": "#0000ff", "strokeWidth": 0.8, "interpolate": "linear"},
 "encoding": {"x": {"field": "t", "type": "quantitative", "scale": {"domain": [0, 850], "nice": false, "zero": false},
   "axis": {"orient": "bottom", "values": [0, 200, 400, 600, 800], "title": null, "grid": false, "domainColor": "#000000", "domainWidth": 1.5, "tickSize": -4, "tickColor": "#000000", "tickWidth": 1.2, "labels": false, "zindex": 1}},
  "y": {"field": "hi", "type": "quantitative", "scale": {"domain": [-1, 1], "nice": false, "zero": false},
   "axis": {"orient": "left", "title": null, "grid": false, "domainColor": "#000000", "domainWidth": 1.5, "ticks": false, "labels": false, "zindex": 1}},
  "y2": {"field": "lo"}}},
{"data": {"values": [{}]}, "mark": {"type": "rule", "color": "#000000", "strokeWidth": 2.5},
 "encoding": {"x": {"datum": -55, "type": "quantitative", "scale": {"domain": [0, 850], "nice": false, "zero": false}, "axis": null},
  "y": {"datum": -1, "type": "quantitative", "scale": {"domain": [-1, 1], "nice": false, "zero": false}, "axis": null}, "y2": {"datum": 1}}},
{"data": {"values": [{"label": "SK1-P Y"}]}, "mark": {"type": "text", "font": "Liberation Serif", "fontSize": 28, "align": "left", "baseline": "alphabetic", "color": "#000000"},
 "encoding": {"x": {"datum": 444, "type": "quantitative", "scale": {"domain": [0, 850], "nice": false, "zero": false}, "axis": null},
  "y": {"datum": 0.56, "type": "quantitative", "scale": {"domain": [-1, 1], "nice": false, "zero": false}, "axis": null}, "text": {"field": "label"}}}
]
},
{
"width": 412, "height": 158.5,
"resolve": {"axis": {"x": "independent", "y": "independent"}},
"layer": [
{"data": {"values": [{}]}, "mark": {"type": "rect", "color": "#ffffff"},
 "encoding": {"x": {"datum": -22.7, "type": "quantitative", "scale": {"domain": [0, 850], "nice": false, "zero": false}, "axis": null}, "x2": {"datum": 886},
  "y": {"datum": -1.54, "type": "quantitative", "scale": {"domain": [-1, 1], "nice": false, "zero": false}, "axis": null}, "y2": {"datum": 1}}},
{"data": {"name": "gridlines"}, "mark": {"type": "rule", "color": "#8c8c8c", "strokeDash": [1, 2], "strokeWidth": 1},
 "encoding": {"x": {"field": "t", "type": "quantitative", "scale": {"domain": [0, 850], "nice": false, "zero": false}, "axis": null},
  "y": {"datum": -1, "type": "quantitative", "scale": {"domain": [-1, 1], "nice": false, "zero": false}, "axis": null}, "y2": {"datum": 1}}},
{"data": {"name": "skx"}, "mark": {"type": "area", "color": "#0000ff", "stroke": "#0000ff", "strokeWidth": 0.8, "interpolate": "linear"},
 "encoding": {"x": {"field": "t", "type": "quantitative", "scale": {"domain": [0, 850], "nice": false, "zero": false},
   "axis": {"orient": "bottom", "values": [0, 200, 400, 600, 800], "title": null, "grid": false, "domainColor": "#000000", "domainWidth": 1.5, "tickSize": -4, "tickColor": "#000000", "tickWidth": 1.2, "labels": true, "labelFont": "Liberation Serif", "labelFontSize": 29, "labelColor": "#000000", "labelPadding": 16, "labelFlush": false, "labelOverlap": false, "zindex": 1}},
  "y": {"field": "hi", "type": "quantitative", "scale": {"domain": [-1, 1], "nice": false, "zero": false},
   "axis": {"orient": "left", "title": null, "grid": false, "domainColor": "#000000", "domainWidth": 1.5, "ticks": false, "labels": false, "zindex": 1}},
  "y2": {"field": "lo"}}},
{"data": {"values": [{}]}, "mark": {"type": "rule", "color": "#000000", "strokeWidth": 2.5},
 "encoding": {"x": {"datum": -55, "type": "quantitative", "scale": {"domain": [0, 850], "nice": false, "zero": false}, "axis": null},
  "y": {"datum": -1.54, "type": "quantitative", "scale": {"domain": [-1, 1], "nice": false, "zero": false}, "axis": null}, "y2": {"datum": 1}}},
{"data": {"values": [{"label": "SK1-P X"}]}, "mark": {"type": "text", "font": "Liberation Serif", "fontSize": 28, "align": "left", "baseline": "alphabetic", "color": "#000000"},
 "encoding": {"x": {"datum": 444, "type": "quantitative", "scale": {"domain": [0, 850], "nice": false, "zero": false}, "axis": null},
  "y": {"datum": 0.54, "type": "quantitative", "scale": {"domain": [-1, 1], "nice": false, "zero": false}, "axis": null}, "text": {"field": "label"}}},
{"data": {"values": [{"label": "t,c"}]}, "mark": {"type": "text", "font": "Liberation Serif", "fontSize": 28, "align": "center", "baseline": "alphabetic", "color": "#000000"},
 "encoding": {"x": {"datum": 853, "type": "quantitative", "scale": {"domain": [0, 850], "nice": false, "zero": false}, "axis": null},
  "y": {"datum": -0.91, "type": "quantitative", "scale": {"domain": [-1, 1], "nice": false, "zero": false}, "axis": null}, "text": {"field": "label"}}}
]
}
]
}
